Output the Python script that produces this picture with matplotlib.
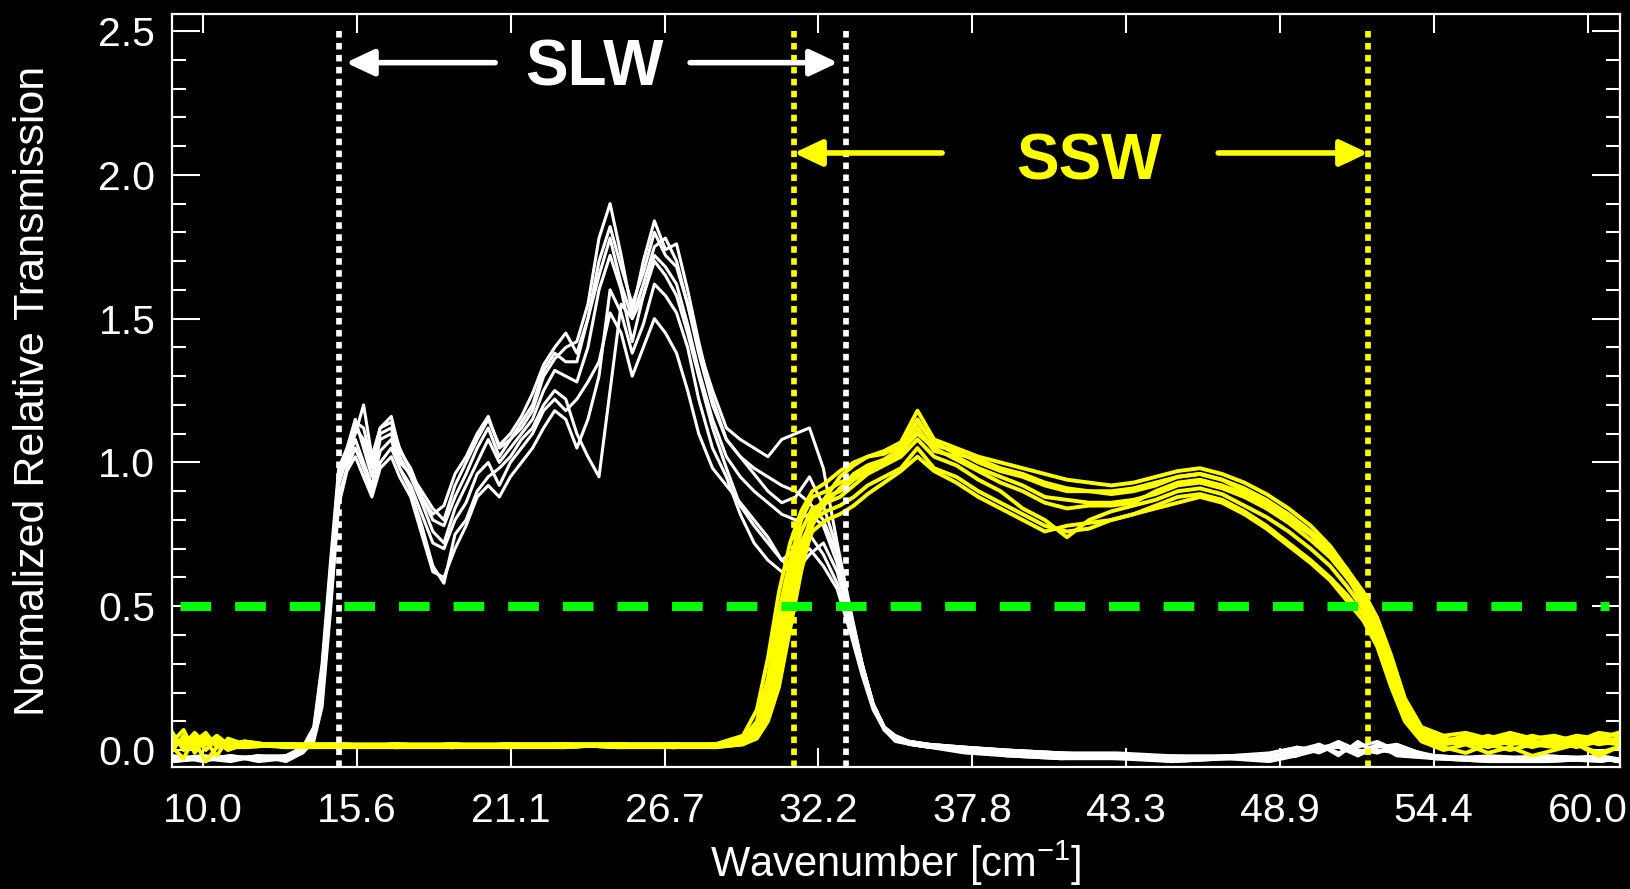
import numpy as np
import matplotlib.pyplot as plt
from matplotlib.ticker import MultipleLocator

plt.rcParams['font.family'] = ['Liberation Sans', 'DejaVu Sans']
plt.rcParams['mathtext.fontset'] = 'custom'
plt.rcParams['mathtext.rm'] = 'Liberation Sans'
plt.rcParams['mathtext.default'] = 'regular'

# wavenumber grid (cm-1) and normalised transmission of the SLW detectors
slw_wn = [8.9, 10.0, 11.0, 12.0, 13.0, 13.6, 14.0, 14.3, 14.6, 14.9,
          15.2, 15.5, 15.8, 16.1, 16.4, 16.8, 17.1, 17.5, 17.9, 18.3,
          18.7, 19.1, 19.5, 19.9, 20.3, 20.7, 21.1, 21.5, 21.9, 22.3,
          22.7, 23.1, 23.5, 23.9, 24.3, 24.7, 25.1, 25.5, 25.9, 26.3,
          26.7, 27.1, 27.5, 27.9, 28.4, 28.9, 29.4, 29.9, 30.4, 30.9,
          31.4, 31.9, 32.4, 32.9, 33.4, 33.8, 34.2, 34.6, 35.0, 35.5,
          36.2, 37.5, 39.0, 41.0, 43.0, 45.0, 47.0, 48.5, 49.5, 50.3,
          51.0, 51.7, 52.4, 53.1, 54.5, 56.5, 58.5, 60.5, 61.1]

slw_w1 = [-0.03, -0.02, -0.03, -0.02, -0.02, 0.00, 0.05, 0.20, 0.55, 0.92,
          1.02, 1.10, 1.20, 1.02, 1.12, 1.16, 1.04, 0.98, 0.88, 0.80,
          0.78, 0.88, 0.96, 1.05, 1.12, 1.02, 1.08, 1.12, 1.18, 1.30,
          1.36, 1.40, 1.42, 1.55, 1.78, 1.90, 1.72, 1.52, 1.70, 1.84,
          1.74, 1.76, 1.60, 1.42, 1.22, 1.08, 1.02, 0.98, 0.95, 0.92,
          0.90, 0.86, 0.80, 0.68, 0.46, 0.30, 0.16, 0.08, 0.05, 0.03,
          0.02, 0.01, 0.00, -0.01, -0.02, -0.02, -0.03, -0.02, -0.01, 0.02,
          -0.02, 0.03, -0.01, 0.02, -0.03, -0.03, -0.02, -0.03, -0.03]
slw_w2 = [-0.04, -0.03, -0.02, -0.03, -0.02, 0.01, 0.08, 0.30, 0.65, 0.98,
          1.05, 1.15, 1.05, 0.95, 1.08, 1.10, 1.00, 0.96, 0.90, 0.84,
          0.80, 0.92, 1.00, 1.08, 1.15, 1.06, 1.10, 1.16, 1.24, 1.34,
          1.40, 1.45, 1.38, 1.50, 1.65, 1.78, 1.62, 1.50, 1.62, 1.75,
          1.78, 1.70, 1.55, 1.40, 1.25, 1.12, 1.08, 1.05, 1.02, 1.08,
          1.10, 1.12, 0.98, 0.72, 0.48, 0.30, 0.16, 0.08, 0.04, 0.03,
          0.02, 0.01, 0.00, -0.01, -0.01, -0.02, -0.02, -0.01, 0.01, -0.01,
          0.02, -0.01, 0.02, -0.02, -0.03, -0.02, -0.03, -0.03, -0.04]
slw_w3 = [-0.02, -0.04, -0.02, -0.03, -0.03, -0.01, 0.04, 0.18, 0.50, 0.88,
          0.98, 1.05, 0.98, 0.90, 1.00, 1.05, 0.98, 0.90, 0.78, 0.64,
          0.58, 0.75, 0.80, 0.90, 0.95, 0.98, 1.02, 1.08, 1.12, 1.20,
          1.25, 1.22, 1.10, 1.02, 0.95, 1.25, 1.55, 1.50, 1.58, 1.70,
          1.65, 1.58, 1.45, 1.30, 1.12, 0.98, 0.85, 0.78, 0.72, 0.66,
          0.70, 0.75, 0.68, 0.58, 0.42, 0.28, 0.15, 0.07, 0.04, 0.02,
          0.01, 0.00, -0.01, -0.02, -0.03, -0.03, -0.03, -0.02, 0.00, 0.02,
          -0.01, 0.01, 0.03, 0.00, -0.02, -0.03, -0.04, -0.03, -0.03]
slw_w4 = [-0.03, -0.03, -0.02, -0.04, -0.03, 0.00, 0.06, 0.25, 0.60, 0.95,
          1.00, 1.08, 1.00, 0.92, 1.04, 1.08, 0.98, 0.92, 0.82, 0.72,
          0.70, 0.80, 0.86, 0.96, 1.00, 0.92, 1.00, 1.05, 1.10, 1.18,
          1.22, 1.18, 1.22, 1.28, 1.35, 1.52, 1.45, 1.30, 1.40, 1.50,
          1.45, 1.38, 1.25, 1.10, 0.98, 0.92, 0.86, 0.80, 0.74, 0.66,
          0.62, 0.68, 0.72, 0.62, 0.44, 0.29, 0.15, 0.07, 0.04, 0.02,
          0.01, 0.00, -0.02, -0.03, -0.02, -0.04, -0.03, -0.03, -0.02, 0.01,
          0.02, -0.02, 0.01, 0.02, -0.03, -0.04, -0.03, -0.04, -0.03]
slw_w5 = [-0.02, -0.03, -0.04, -0.02, -0.03, 0.00, 0.07, 0.28, 0.62, 0.96,
          1.04, 1.12, 1.08, 0.98, 1.10, 1.12, 1.02, 0.95, 0.86, 0.76,
          0.72, 0.84, 0.92, 1.00, 1.08, 1.00, 1.05, 1.10, 1.15, 1.25,
          1.32, 1.30, 1.28, 1.40, 1.60, 1.72, 1.60, 1.42, 1.58, 1.72,
          1.68, 1.62, 1.48, 1.32, 1.15, 1.02, 0.95, 0.90, 0.86, 0.82,
          0.80, 0.82, 0.78, 0.65, 0.45, 0.29, 0.16, 0.08, 0.04, 0.03,
          0.02, 0.00, -0.01, -0.02, -0.02, -0.03, -0.02, -0.03, 0.01, 0.00,
          0.03, 0.00, -0.01, 0.01, -0.02, -0.03, -0.03, -0.02, -0.03]
slw_w6 = [-0.03, -0.02, -0.03, -0.03, -0.02, 0.01, 0.06, 0.22, 0.58, 0.94,
          1.03, 1.14, 1.12, 1.00, 1.12, 1.14, 1.05, 0.97, 0.88, 0.82,
          0.85, 0.96, 1.02, 1.10, 1.16, 1.05, 1.08, 1.14, 1.20, 1.32,
          1.38, 1.35, 1.35, 1.50, 1.70, 1.82, 1.68, 1.55, 1.66, 1.80,
          1.72, 1.68, 1.55, 1.38, 1.20, 1.08, 1.02, 0.96, 0.90, 0.86,
          0.88, 0.95, 0.85, 0.70, 0.47, 0.30, 0.16, 0.08, 0.05, 0.03,
          0.02, 0.01, 0.00, -0.01, -0.02, -0.03, -0.02, -0.02, -0.02, 0.02,
          -0.01, 0.02, 0.00, -0.01, -0.02, -0.03, -0.02, -0.03, -0.04]
slw_w7 = [-0.04, -0.03, -0.03, -0.02, -0.04, -0.01, 0.03, 0.15, 0.48, 0.85,
          0.97, 1.02, 0.95, 0.88, 0.98, 1.02, 0.95, 0.88, 0.75, 0.62,
          0.60, 0.70, 0.78, 0.88, 0.92, 0.88, 0.95, 1.00, 1.05, 1.12,
          1.18, 1.15, 1.05, 1.15, 1.30, 1.60, 1.52, 1.38, 1.48, 1.62,
          1.58, 1.52, 1.40, 1.22, 1.05, 0.95, 0.82, 0.72, 0.66, 0.62,
          0.66, 0.70, 0.64, 0.56, 0.40, 0.26, 0.14, 0.07, 0.03, 0.02,
          0.01, -0.01, -0.02, -0.03, -0.03, -0.04, -0.03, -0.04, -0.02, 0.00,
          0.01, -0.02, 0.02, -0.01, -0.03, -0.04, -0.04, -0.03, -0.04]
slw_curves = [slw_w1, slw_w2, slw_w3, slw_w4, slw_w5, slw_w6, slw_w7]

# wavenumber grid and normalised transmission of the SSW detectors
ssw_wn = [8.9, 9.3, 9.7, 10.1, 10.5, 10.9, 11.5, 13.0, 15.0, 17.0,
          19.0, 21.0, 23.0, 25.0, 27.0, 28.5, 29.5, 30.0, 30.4, 30.8,
          31.2, 31.6, 32.0, 32.5, 33.0, 33.5, 34.0, 34.6, 35.2, 35.8,
          36.4, 37.2, 38.0, 38.8, 39.6, 40.4, 41.2, 42.0, 42.8, 43.6,
          44.4, 45.2, 46.0, 46.8, 47.6, 48.4, 49.2, 50.0, 50.7, 51.3,
          51.9, 52.4, 52.9, 53.4, 54.0, 54.8, 55.6, 56.4, 57.2, 58.0,
          58.8, 59.6, 60.4, 61.1]

ssw_y1 = [0.03, 0.07, -0.01, 0.05, 0.02, 0.03, 0.02, 0.02, 0.01, 0.02,
          0.01, 0.02, 0.01, 0.02, 0.01, 0.02, 0.04, 0.10, 0.25, 0.48,
          0.66, 0.80, 0.88, 0.90, 0.93, 0.95, 0.98, 1.00, 1.03, 1.12,
          1.04, 1.02, 0.98, 0.95, 0.92, 0.88, 0.87, 0.86, 0.86, 0.87,
          0.89, 0.92, 0.93, 0.91, 0.88, 0.84, 0.79, 0.73, 0.67, 0.60,
          0.52, 0.42, 0.28, 0.14, 0.06, 0.03, 0.02, 0.04, 0.02, 0.03,
          0.02, 0.04, 0.02, 0.03]
ssw_y2 = [0.01, -0.03, 0.05, 0.00, 0.04, 0.01, 0.03, 0.01, 0.02, 0.01,
          0.02, 0.01, 0.02, 0.01, 0.02, 0.01, 0.02, 0.04, 0.10, 0.22,
          0.42, 0.62, 0.78, 0.88, 0.95, 0.99, 1.02, 1.04, 1.07, 1.18,
          1.08, 1.05, 1.02, 1.00, 0.98, 0.96, 0.94, 0.93, 0.92, 0.93,
          0.95, 0.97, 0.98, 0.96, 0.93, 0.89, 0.84, 0.78, 0.71, 0.63,
          0.55, 0.46, 0.33, 0.18, 0.08, 0.05, 0.06, 0.04, 0.06, 0.04,
          0.05, 0.03, 0.06, 0.05]
ssw_y3 = [0.05, 0.01, 0.03, -0.04, 0.01, 0.02, 0.01, 0.02, 0.01, 0.02,
          0.01, 0.02, 0.02, 0.01, 0.02, 0.02, 0.03, 0.07, 0.18, 0.38,
          0.58, 0.72, 0.80, 0.83, 0.85, 0.88, 0.92, 0.95, 0.98, 1.05,
          0.98, 0.95, 0.90, 0.86, 0.82, 0.78, 0.76, 0.77, 0.80, 0.82,
          0.85, 0.88, 0.89, 0.87, 0.83, 0.78, 0.72, 0.66, 0.60, 0.54,
          0.47, 0.38, 0.24, 0.11, 0.04, 0.01, -0.01, 0.02, 0.00, 0.02,
          0.01, 0.02, -0.02, 0.01]
ssw_y4 = [0.02, 0.04, 0.02, 0.03, -0.02, 0.04, 0.02, 0.02, 0.02, 0.01,
          0.02, 0.02, 0.01, 0.02, 0.02, 0.01, 0.03, 0.06, 0.15, 0.32,
          0.52, 0.70, 0.82, 0.88, 0.90, 0.94, 0.97, 1.01, 1.05, 1.15,
          1.06, 1.04, 1.00, 0.97, 0.95, 0.92, 0.90, 0.90, 0.89, 0.90,
          0.92, 0.95, 0.96, 0.94, 0.91, 0.87, 0.82, 0.76, 0.70, 0.63,
          0.54, 0.44, 0.31, 0.16, 0.07, 0.04, 0.03, 0.05, 0.03, 0.05,
          0.03, 0.05, 0.04, 0.06]
ssw_y5 = [0.04, 0.02, 0.06, 0.02, 0.03, 0.00, 0.02, 0.01, 0.02, 0.02,
          0.02, 0.01, 0.02, 0.02, 0.01, 0.02, 0.03, 0.08, 0.20, 0.42,
          0.62, 0.76, 0.84, 0.86, 0.88, 0.92, 0.96, 0.99, 1.02, 1.08,
          1.02, 0.99, 0.94, 0.90, 0.84, 0.80, 0.74, 0.80, 0.83, 0.85,
          0.87, 0.90, 0.91, 0.89, 0.85, 0.81, 0.76, 0.70, 0.64, 0.57,
          0.49, 0.40, 0.26, 0.12, 0.05, 0.02, 0.03, 0.01, 0.03, 0.01,
          0.03, 0.01, 0.03, 0.02]
ssw_y6 = [0.00, 0.05, 0.03, 0.06, 0.01, 0.02, 0.03, 0.01, 0.01, 0.02,
          0.01, 0.01, 0.02, 0.01, 0.01, 0.02, 0.05, 0.14, 0.32, 0.55,
          0.72, 0.83, 0.90, 0.93, 0.97, 1.00, 1.02, 1.03, 1.06, 1.14,
          1.07, 1.03, 1.01, 0.98, 0.96, 0.93, 0.91, 0.90, 0.90, 0.91,
          0.93, 0.95, 0.96, 0.94, 0.90, 0.86, 0.81, 0.75, 0.69, 0.62,
          0.53, 0.43, 0.29, 0.15, 0.06, 0.03, 0.05, 0.03, 0.05, 0.02,
          0.04, 0.02, 0.05, 0.03]
ssw_y7 = [0.06, 0.00, 0.02, 0.04, 0.03, 0.01, 0.01, 0.02, 0.01, 0.01,
          0.02, 0.01, 0.01, 0.02, 0.01, 0.01, 0.02, 0.05, 0.12, 0.28,
          0.48, 0.65, 0.76, 0.80, 0.82, 0.85, 0.89, 0.93, 0.97, 1.02,
          0.97, 0.93, 0.88, 0.84, 0.80, 0.76, 0.78, 0.79, 0.80, 0.82,
          0.84, 0.86, 0.88, 0.86, 0.82, 0.77, 0.71, 0.65, 0.59, 0.52,
          0.45, 0.36, 0.22, 0.10, 0.03, 0.00, 0.02, -0.01, 0.01, -0.02,
          0.00, 0.02, -0.01, 0.01]
ssw_y8 = [0.02, 0.03, 0.01, 0.02, 0.05, 0.02, 0.02, 0.02, 0.02, 0.01,
          0.01, 0.02, 0.02, 0.02, 0.02, 0.02, 0.03, 0.05, 0.12, 0.26,
          0.46, 0.66, 0.80, 0.86, 0.91, 0.96, 0.99, 1.01, 1.04, 1.10,
          1.05, 1.01, 0.97, 0.93, 0.90, 0.86, 0.84, 0.85, 0.85, 0.86,
          0.90, 0.93, 0.94, 0.92, 0.89, 0.85, 0.80, 0.75, 0.68, 0.61,
          0.50, 0.40, 0.27, 0.13, 0.05, 0.03, 0.04, 0.02, 0.04, 0.03,
          0.02, 0.04, 0.03, 0.04]
ssw_curves = [ssw_y1, ssw_y2, ssw_y3, ssw_y4, ssw_y5, ssw_y6, ssw_y7, ssw_y8]

# band edges (half-power points) and annotation positions
slw_edges = [14.91, 33.23]
ssw_edges = [31.33, 52.07]
half_level = 0.5
half_span = [9.17, 60.77]
slw_arrow_y = 2.39
slw_arrow_tails = [20.55, 27.59]
slw_arrow_tips = [15.16, 32.93]
ssw_arrow_y = 2.076
ssw_arrow_tails = [36.69, 46.66]
ssw_arrow_tips = [31.34, 52.07]
slw_label = (24.12, 2.312)
ssw_label = (42.0, 1.985)

xtick_labels = ['10.0', '15.6', '21.1', '26.7', '32.2', '37.8', '43.3', '48.9', '54.4', '60.0']
ytick_labels = ['0.0', '0.5', '1.0', '1.5', '2.0', '2.5']

fig = plt.figure(figsize=(16.3, 8.89), dpi=100, facecolor='black')
ax = fig.add_axes([0.1055, 0.1372, 0.8884, 0.847])
ax.set_facecolor('black')

for c in slw_curves:
    ax.plot(slw_wn, c, color='white', lw=2.2)
for c in ssw_curves:
    ax.plot(ssw_wn, c, color='#ffff00', lw=2.8)

ymin, ymax = -0.059, 2.559
# band edge markers
for x in slw_edges:
    ax.plot([x, x], [ymin, 2.5], color='white', lw=4.1, linestyle=(0, (1.15, 0.95)))
for x in ssw_edges:
    ax.plot([x, x], [ymin, 2.5], color='#ffff00', lw=4.1, linestyle=(0, (1.15, 0.95)))

ax.plot(half_span, [half_level, half_level], color='#00ff00', lw=6.5,
        linestyle=(0, (3.4, 2.65)))

arrow_kw = dict(arrowstyle='-|>,head_length=0.85,head_width=0.4', lw=4, shrinkA=0, shrinkB=0,
                mutation_scale=20)
for tail, tip in zip(slw_arrow_tails, slw_arrow_tips):
    ax.annotate('', xy=(tip, slw_arrow_y), xytext=(tail, slw_arrow_y),
                arrowprops=dict(color='white', **arrow_kw))
for tail, tip in zip(ssw_arrow_tails, ssw_arrow_tips):
    ax.annotate('', xy=(tip, ssw_arrow_y), xytext=(tail, ssw_arrow_y),
                arrowprops=dict(color='#ffff00', **arrow_kw))

ax.text(*slw_label, 'SLW', color='white', fontsize=46, fontweight='bold',
        ha='center', va='baseline')
ax.text(*ssw_label, 'SSW', color='#ffff00', fontsize=46, fontweight='bold',
        ha='center', va='baseline')

ax.set_xlim(8.88, 61.17)
ax.set_ylim(ymin, ymax)
ax.set_xticks(np.linspace(10, 60, len(xtick_labels)))
ax.set_xticklabels(xtick_labels)
ax.set_yticks([float(t) for t in ytick_labels])
ax.set_yticklabels(ytick_labels)
ax.yaxis.set_minor_locator(MultipleLocator(0.1))

for spine in ax.spines.values():
    spine.set_color('white')
    spine.set_linewidth(1.6)
ax.tick_params(axis='both', which='both', direction='in', colors='white',
               top=True, right=True, labelsize=29.5, width=1.5)
ax.tick_params(axis='x', which='major', length=14, pad=18)
ax.tick_params(axis='y', which='major', length=20, pad=12)
ax.tick_params(axis='y', which='minor', length=10)

ax.set_xlabel('Wavenumber [cm$^{-1}$]', color='white', fontsize=30)
ax.set_ylabel('Normalized Relative Transmission', color='white', fontsize=31)
ax.xaxis.label.set_va('center')
ax.yaxis.label.set_va('center')
ax.xaxis.set_label_coords(0.5, -0.128)
ax.yaxis.set_label_coords(-0.096, 0.5)

fig.savefig('out.png', dpi=100, facecolor='black')
